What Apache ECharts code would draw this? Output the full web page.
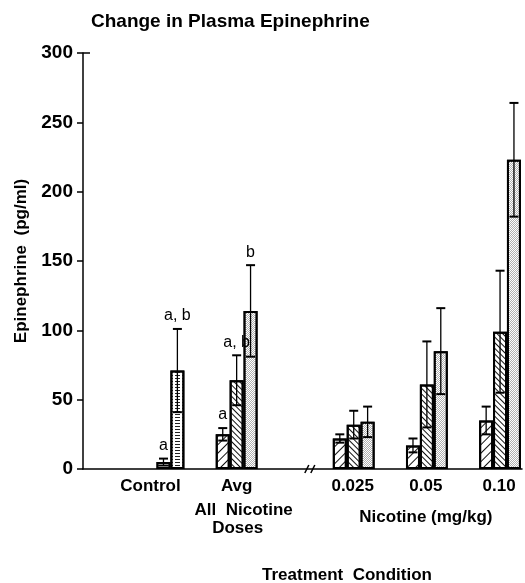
<!DOCTYPE html>
<html>
<head>
<meta charset="utf-8">
<script src="https://cdn.jsdelivr.net/npm/echarts@6/dist/echarts.min.js"></script>
<style>
html,body{margin:0;padding:0;background:#fff;}
#chart{width:525px;height:583px;}
</style>
</head>
<body>
<div id="chart"></div>
<script>
// ---- data ----
const groupLabels = ['Control', 'Avg', '0.025', '0.05', '0.10'];
const groupPos = [1, 2, 3.6, 4.6, 5.6];
const series1 = [null, 25, 22, 17, 35];
const series1Err = [null, 4.5, 3, 5, 10];
const series2 = [5, 64, 32, 61, 99];
const series2Err = [2.5, 18, 10, 31, 44];
const series3 = [71, 114, 34, 85, 223];
const series3Err = [30, 33, 11, 31, 41];
const series1Sig = ['', 'a', '', '', ''];
const series2Sig = ['a', 'a, b', '', '', ''];
const series3Sig = ['a, b', 'b', '', '', ''];
const yTicks = [0, 50, 100, 150, 200, 250, 300];

const FONT = '"Liberation Sans", Arial, Helvetica, sans-serif';
const barOffset = 0.19;
const offsets = [-barOffset, 0, barOffset];

const decalSlash = {symbol: 'rect', symbolSize: 1, dashArrayX: [1, 0], dashArrayY: [1, 5], rotation: -Math.PI / 4, color: '#111'};
const decalBack = {symbol: 'rect', symbolSize: 1, dashArrayX: [1, 0], dashArrayY: [1, 3], rotation: Math.PI / 4, color: '#111'};
const decalDots = {symbol: 'rect', symbolSize: 1, dashArrayX: [[1, 1], [0, 1, 1, 0]], dashArrayY: [1, 0], color: '#b0b0b0'};
const decalBrick = {symbol: 'rect', symbolSize: 1, dashArrayX: [[5, 2]], dashArrayY: [1, 2], color: '#222'};

function barData(vals, sIdx, controlDecal) {
  return vals.map((v, i) => {
    if (v === null) return null;
    const item = {value: [groupPos[i] + offsets[sIdx], v]};
    if (i === 0 && controlDecal) item.itemStyle = {decal: controlDecal};
    return item;
  }).filter(d => d !== null);
}
function errData(vals, errs, sIdx) {
  const out = [];
  vals.forEach((v, i) => { if (v !== null) out.push([groupPos[i] + offsets[sIdx], v, errs[i], i]); });
  return out;
}
function errSeries(vals, errs, sig, sIdx) {
  return {
    type: 'custom',
    z: 5,
    data: errData(vals, errs, sIdx),
    renderItem: function (params, api) {
      const x = api.value(0), v = api.value(1), e = api.value(2), gi = api.value(3);
      const top = api.coord([x, v + e]);
      const bot = api.coord([x, v - e]);
      const hw = 4.5;
      const ch = [
        {type: 'line', shape: {x1: top[0], y1: top[1], x2: bot[0], y2: bot[1]}, style: {stroke: '#000', lineWidth: 1.3}},
        {type: 'line', shape: {x1: top[0] - hw, y1: top[1], x2: top[0] + hw, y2: top[1]}, style: {stroke: '#000', lineWidth: 2}},
        {type: 'line', shape: {x1: bot[0] - hw, y1: bot[1], x2: bot[0] + hw, y2: bot[1]}, style: {stroke: '#000', lineWidth: 2}}
      ];
      const lbl = sig[gi];
      if (lbl) {
        ch.push({type: 'text', x: top[0], y: top[1] - 5, style: {text: lbl, fill: '#000', font: '16px ' + FONT, textAlign: 'center', textVerticalAlign: 'bottom'}});
      }
      return {type: 'group', children: ch};
    }
  };
}
function barSeries(vals, sIdx, decal, controlDecal) {
  return {
    type: 'bar',
    barWidth: 14,
    barGap: '-100%',
    data: barData(vals, sIdx, controlDecal),
    itemStyle: {color: '#fff', borderColor: '#000', borderWidth: 2, decal: decal},
    silent: true
  };
}

const chart = echarts.init(document.getElementById('chart'), null, {renderer: 'canvas'});
const option = {
  backgroundColor: '#fff',
  animation: false,
  title: {
    text: 'Change in Plasma Epinephrine',
    left: 86, top: 7,
    textStyle: {fontFamily: FONT, fontSize: 19, fontWeight: 'bold', color: '#000'}
  },
  grid: {left: 83, right: 3, top: 53, bottom: 114, containLabel: false},
  xAxis: {
    type: 'value', min: -0.1, max: 5.9,
    axisLine: {show: true, onZero: false, lineStyle: {color: '#000', width: 1.5}},
    axisTick: {show: false}, axisLabel: {show: false}, splitLine: {show: false}
  },
  yAxis: {
    type: 'value', min: yTicks[0], max: yTicks[yTicks.length - 1], interval: yTicks[1] - yTicks[0],
    name: 'Epinephrine  (pg/ml)', nameLocation: 'middle', nameRotate: 90, nameGap: 53,
    nameTextStyle: {fontFamily: FONT, fontSize: 17, fontWeight: 'bold', color: '#000'},
    axisLine: {show: true, onZero: false, lineStyle: {color: '#000', width: 1.5}},
    axisTick: {show: true, inside: false, length: 6, lineStyle: {color: '#000', width: 1.5}},
    axisLabel: {margin: 10, fontFamily: FONT, fontSize: 19, fontWeight: 'bold', color: '#000'},
    splitLine: {show: false}
  },
  series: [
    barSeries(series1, 0, decalSlash, null),
    barSeries(series2, 1, decalBack, decalBrick),
    barSeries(series3, 2, decalDots, decalBrick),
    errSeries(series1, series1Err, series1Sig, 0),
    errSeries(series2, series2Err, series2Sig, 1),
    errSeries(series3, series3Err, series3Sig, 2)
  ]
};
chart.setOption(option);

// ---- decorations / category text placed through the axis scales ----
const labelFont = 'bold 17px ' + FONT;
const g = [];
const labelDx = [-13, 0, -1, -1, -1];
groupLabels.forEach((t, i) => {
  const p = chart.convertToPixel({gridIndex: 0}, [groupPos[i], 0]);
  g.push({type: 'text', x: p[0] + labelDx[i], y: p[1] + 17, style: {text: t, font: labelFont, fill: '#000', textAlign: 'center', textVerticalAlign: 'middle'}});
});
const pAvg = chart.convertToPixel({gridIndex: 0}, [groupPos[1], 0]);
g.push({type: 'text', x: pAvg[0] + 7, y: pAvg[1] + 41, style: {text: 'All  Nicotine', font: labelFont, fill: '#000', textAlign: 'center', textVerticalAlign: 'middle'}});
g.push({type: 'text', x: pAvg[0] + 1, y: pAvg[1] + 59, style: {text: 'Doses', font: labelFont, fill: '#000', textAlign: 'center', textVerticalAlign: 'middle'}});
const pMid = chart.convertToPixel({gridIndex: 0}, [groupPos[3], 0]);
g.push({type: 'text', x: pMid[0] - 1, y: pMid[1] + 48, style: {text: 'Nicotine (mg/kg)', font: labelFont, fill: '#000', textAlign: 'center', textVerticalAlign: 'middle'}});
g.push({type: 'text', x: 347, y: 575, style: {text: 'Treatment  Condition', font: labelFont, fill: '#000', textAlign: 'center', textVerticalAlign: 'middle'}});
// axis break mark
const pb = chart.convertToPixel({gridIndex: 0}, [3.0, 0]);
g.push({type: 'line', shape: {x1: pb[0] - 5, y1: pb[1] + 4, x2: pb[0] - 1, y2: pb[1] - 4}, style: {stroke: '#000', lineWidth: 1.5}});
g.push({type: 'line', shape: {x1: pb[0] + 1, y1: pb[1] + 4, x2: pb[0] + 5, y2: pb[1] - 4}, style: {stroke: '#000', lineWidth: 1.5}});
// top tick pointing inward at max
const pt = chart.convertToPixel({gridIndex: 0}, [-0.1, yTicks[yTicks.length - 1]]);
g.push({type: 'line', shape: {x1: pt[0], y1: pt[1], x2: pt[0] + 7, y2: pt[1]}, style: {stroke: '#000', lineWidth: 1.5}});
chart.setOption({graphic: {elements: g}});
</script>
</body>
</html>
